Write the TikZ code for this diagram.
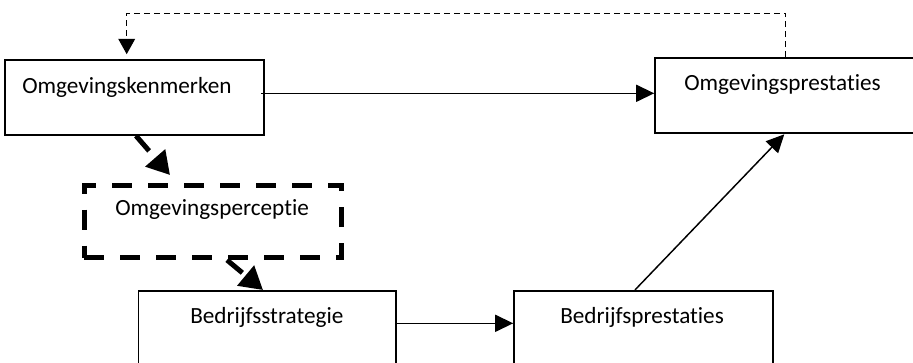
\documentclass[tikz,border=0pt]{standalone}
\usepackage{fontspec}
\setmainfont{Carlito}[Ligatures=NoCommon]
\usetikzlibrary{arrows.meta,calc}
\begin{document}
\begin{tikzpicture}[x=0.75pt,y=-0.75pt,
  box/.style={draw, line width=1.2pt, rectangle, inner sep=0pt, minimum height={75*0.75pt}},
  percbox/.style={draw, line width=3.75pt, rectangle, inner sep=0pt, dash pattern=on 15pt off 12pt},
  lbl/.style={anchor=base west, inner sep=0pt, font=\fontsize{17.4}{20}\selectfont},
  arr/.style={-{Triangle[length=13.5pt,width=12.75pt]}, line width=1.1pt},
  thickarr/.style={-{Triangle[length=17pt,width=19pt]}, line width=3.75pt, dash pattern=on 15pt off 12pt},
  fb/.style={-{Triangle[length=11.5pt,width=12.5pt]}, line width=1.1pt, dash pattern=on 4.5pt off 3pt}]
\useasboundingbox (0,0) rectangle (913,362);
\clip (0,0) rectangle (913,362);
% boxes
\node[box, minimum width={259*0.75pt}] (ok) at (134.5,97.5) {};
\node[box, minimum width={259*0.75pt}] (op) at (784.5,95.5) {};
\node[percbox, minimum width={257.5*0.75pt}, minimum height={72.5*0.75pt}] (pc) at (212.75,221.25) {};
\node[box, minimum width={257.7*0.75pt}] (bs) at (267.15,328.2) {};
\node[box, minimum width={258.7*0.75pt}] (bp) at (643.35,328.2) {};
% labels
\node[lbl] (okt) at (22,93.3) {Omgevingskenmerken};
\node[lbl] (opt) at (684,90.7) {Omgevingsprestaties};
\node[lbl] (pct) at (115,215) {Omgevingsperceptie};
\node[lbl] (bst) at (190,323.3) {Bedrijfsstrategie};
\node[lbl] (bpt) at (560,323.3) {Bedrijfsprestaties};
% helper coordinates
\coordinate (fbR) at (785.7,13.3);
\coordinate (fbL) at (126.7,13.3);
\coordinate (t1s) at (136,135);
\coordinate (t1e) at (170,175);
\coordinate (t2s) at (227,259);
\coordinate (t2e) at (263,290);
\coordinate (dgs) at (635,290.7);
\coordinate (dge) at (784.3,134.3);
% connectors
\draw[arr] ($(ok.east |- 0,93.3)+(-4,0)$) -- (op.west |- 0,93.3);
\draw[fb] (op.north -| fbR) -- (fbR) -- (fbL) -- ($(ok.north -| fbL)+(0,-5)$);
\draw[thickarr] (ok.south -| t1s) -- (t1e);
\draw[thickarr] (pc.south -| t2s) -- (t2e);
\draw[arr] ($(bs.east |- 0,323.3)+(-2,0)$) -- (bp.west |- 0,323.3);
\draw[arr] (bp.north -| dgs) -- (dge);
\end{tikzpicture}
\end{document}
